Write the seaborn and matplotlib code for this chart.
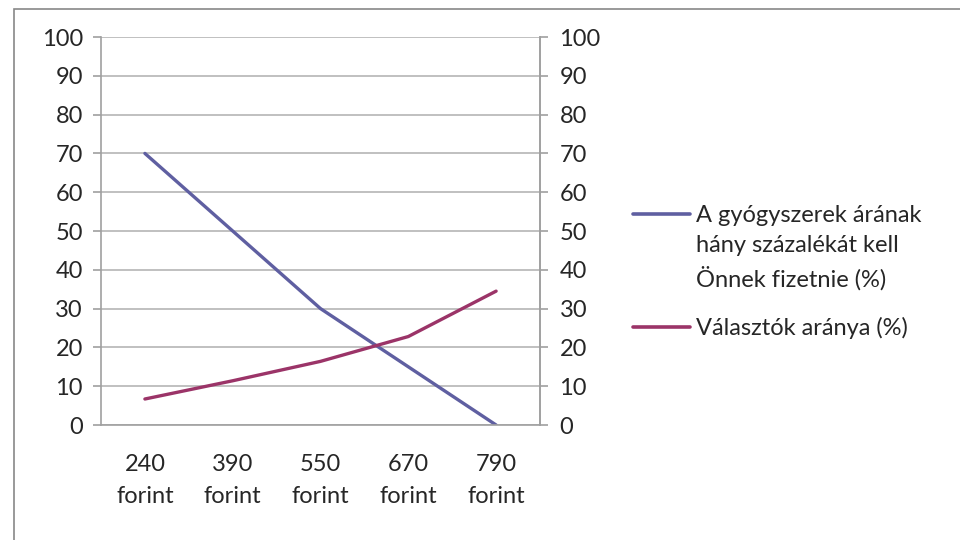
import pandas as pd
import seaborn as sns
import matplotlib as mpl
from matplotlib import pyplot as plt

categories = ["240\nforint", "390\nforint", "550\nforint", "670\nforint", "790\nforint"]
share_paid = [70, 50, 30, 15, 0]
voters = [6.7, 11.4, 16.4, 22.8, 34.5]
series_names = ["A gyógyszerek árának hány százalékát kell Önnek fizetnie (%)",
                "Választók aránya (%)"]
legend_lines = ["A gyógyszerek árának", "hány százalékát kell", "Önnek fizetnie (%)"]
colors = ["#5F5FA1", "#9B3468"]
y_ticks = list(range(0, 101, 10))

sns.set_theme(style="white")
plt.rcParams["font.family"] = ["Lato", "DejaVu Sans"]
grey = "#A0A0A0"

df = pd.DataFrame({
    "pos": list(range(len(categories))) * 2,
    "value": share_paid + voters,
    "series": [series_names[0]] * len(categories) + [series_names[1]] * len(categories),
})

fig = plt.figure(figsize=(9.6, 5.4), dpi=100)
# outer chart border like the spreadsheet frame
fig.patches.append(mpl.patches.Rectangle(
    (14 / 960, -0.1), 1.2, 1.1 - 9 / 540, transform=fig.transFigure,
    fill=False, edgecolor="#888888", linewidth=1.2))

ax = fig.add_axes([101 / 960, 1 - 425 / 540, 439 / 960, 388 / 540])
sns.lineplot(data=df, x="pos", y="value", hue="series", palette=colors,
             linewidth=2.4, ax=ax, legend=False)

ax.set_xlim(-0.5, len(categories) - 0.5)
ax.set_ylim(0, 100)
ax.set_yticks(y_ticks)
ax.yaxis.grid(True, color="#B5B5B5", linewidth=1.2)
ax.set_axisbelow(True)
ax.set_xticks(range(len(categories)))
ax.set_xticklabels(categories, fontsize=17, linespacing=1.65)
ax.set_xticks([i - 0.5 for i in range(len(categories) + 1)], minor=True)
ax.tick_params(axis="x", which="major", length=0, pad=21)
ax.tick_params(axis="x", which="minor", length=6, color=grey, width=1.2, direction="out")
ax.tick_params(axis="y", labelsize=17, length=6, color=grey, width=1.2,
               direction="out", left=True, pad=7)
ax.set_xlabel("")
ax.set_ylabel("")
ax.spines["top"].set_visible(False)
for side in ["left", "right", "bottom"]:
    ax.spines[side].set_color(grey)
    ax.spines[side].set_linewidth(1.2)

ax2 = ax.twinx()
ax2.set_ylim(0, 100)
ax2.set_yticks(y_ticks)
ax2.tick_params(axis="y", labelsize=17, length=6, color=grey, width=1.2,
                direction="out", right=True, pad=8)
for side in ["top", "left", "bottom"]:
    ax2.spines[side].set_visible(False)
ax2.spines["right"].set_color(grey)
ax2.spines["right"].set_linewidth(1.2)

# legend: first series wraps over three lines, handle sits on the first one
blank = mpl.lines.Line2D([], [], color="none")
h1 = [mpl.lines.Line2D([], [], color=colors[0], linewidth=2.6), blank, blank]
fig.legend(h1, legend_lines, loc="upper left", bbox_to_anchor=(633 / 960, 1 - 205 / 540),
           frameon=False, fontsize=17, handlelength=2.4, handletextpad=0.25,
           labelspacing=0.4, borderaxespad=0, borderpad=0)
h2 = [mpl.lines.Line2D([], [], color=colors[1], linewidth=2.6)]
fig.legend(h2, [series_names[1]], loc="center left", bbox_to_anchor=(633 / 960, 1 - 328 / 540),
           frameon=False, fontsize=17, handlelength=2.4, handletextpad=0.25,
           borderaxespad=0, borderpad=0)

plt.savefig("out.png", dpi=100)
